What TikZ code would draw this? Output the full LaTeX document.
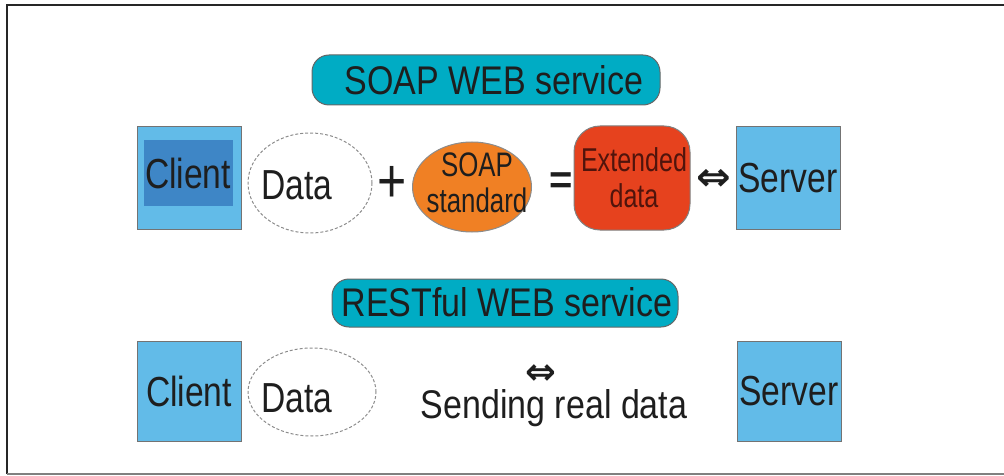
\documentclass[tikz,border=0pt]{standalone}
\usepackage{fontspec}
\setmainfont{Liberation Sans}
\newfontfamily\dejavub{DejaVu Sans Bold}
\usetikzlibrary{shapes.geometric}
\definecolor{boxblue}{RGB}{98,187,232}
\definecolor{hlblue}{RGB}{62,134,198}
\definecolor{teal1}{RGB}{0,172,196}
\definecolor{orng}{RGB}{240,128,36}
\definecolor{redx}{RGB}{230,66,30}
\definecolor{txt}{RGB}{30,30,30}
\definecolor{redtxt}{RGB}{80,20,12}
\newcommand{\nx}[1]{\scalebox{0.85}[1]{#1}}
\newcommand{\ny}[1]{\scalebox{0.8}[1]{#1}}
\newcommand{\nz}[1]{\scalebox{0.76}[1]{#1}}
\tikzset{
  bluebox/.style={draw=black!55, fill=boxblue, minimum width=104pt, minimum height=102pt, inner sep=0pt, line width=1pt},
  title/.style={draw=black!60, fill=teal1, rounded corners=17pt, inner sep=0pt, line width=1pt, font=\fontsize{40}{44}\selectfont, text=txt},
  bigtxt/.style={font=\fontsize{40}{44}\selectfont, text=txt, inner sep=0pt},
  boxtxt/.style={font=\fontsize{42}{44}\selectfont, text=txt, inner sep=0pt},
  dataell/.style={ellipse, draw=black!45, dash pattern=on 3pt off 2pt, line width=1pt, inner sep=0pt},
  dblarrow/.style={font=\fontsize{46}{46}\selectfont\dejavub, text=txt, inner sep=0pt},
}
\begin{document}
\begin{tikzpicture}[x=1pt,y=-1pt]
\useasboundingbox (0,0) rectangle (1004,476);
% frame
\draw[black!85, line width=2pt] (7,474) -- (7,5) -- (1004,5);
\draw[black!50, line width=2pt] (7,474) -- (1004,474);

% SOAP row
\node[title, minimum width=348pt, minimum height=50pt] (soapt) at (486,80) {};
\node[bigtxt] (soaptt) at (494,80) {\nx{SOAP WEB service}};

\node[bluebox] (client1) at (189,178) {};
\node[fill=hlblue, minimum width=89pt, minimum height=66pt, boxtxt] (client1t) at (188,173) {\ny{Client}};

\node[dataell, minimum width=124pt, minimum height=100pt] (data1) at (310,183) {};
\node[boxtxt] (data1t) at (297,185) {\ny{Data}};

\node[font=\fontsize{50}{50}\selectfont, text=txt, inner sep=0pt] (plus) at (392,184) {\scalebox{1}[1.25]{+}};

\node[ellipse, draw=black!45, fill=orng, minimum width=119pt, minimum height=90pt, inner sep=0pt, line width=1pt] (soapstd) at (472,187) {};
\node[font=\fontsize{34}{36}\selectfont, text=txt, align=center, inner sep=0pt] (soapstdt) at (477,183) {\nz{SOAP}\\\nz{standard}};

\node[font=\fontsize{40}{40}\selectfont\bfseries, text=txt, inner sep=0pt] (eq) at (561,183) {=};

\node[draw=black!50, fill=redx, rounded corners=26pt, minimum width=116pt, minimum height=104pt, inner sep=0pt, line width=1pt] (ext) at (632,178) {};
\node[font=\fontsize{33}{36}\selectfont, text=redtxt, align=center, inner sep=0pt] (extt) at (634,178) {\nz{Extended}\\\nz{data}};

\node[dblarrow] (arr1) at (714,180) {\scalebox{0.9}[0.85]{⇔}};

\node[bluebox, boxtxt] (server1) at (788,178) {\ny{Server}};

% REST row
\node[title, minimum width=346pt, minimum height=48pt] (restt) at (505,303) {};
\node[bigtxt] (resttt) at (507,302) {\nx{RESTful WEB service}};

\node[bluebox, minimum height=100pt, boxtxt] (client2) at (189,391) {\ny{Client}};

\node[dataell, minimum width=128pt, minimum height=88pt] (data2) at (312,392) {};
\node[boxtxt] (data2t) at (297,398) {\ny{Data}};

\node[dblarrow, text height=20pt, text depth=0pt, anchor=base] (arr2) at (541,384) {\scalebox{0.8}[0.8]{⇔}};
\node[bigtxt] (send) at (554,408) {\nx{Sending real data}};

\node[bluebox, minimum height=100pt, boxtxt] (server2) at (789,391) {\ny{Server}};
\end{tikzpicture}
\end{document}
